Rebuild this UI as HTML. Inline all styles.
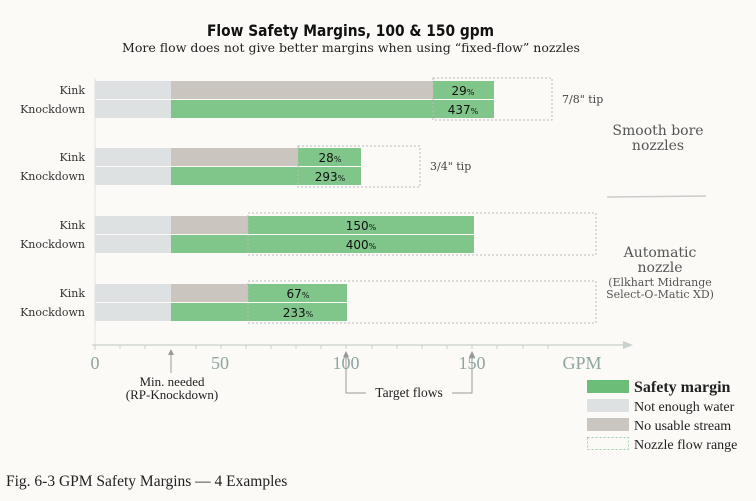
<!DOCTYPE html>
<html><head><meta charset="utf-8"><style>
body{margin:0;background:#fbfaf6;}
</style></head><body>
<svg width="756" height="496" viewBox="0 0 756 496" xmlns="http://www.w3.org/2000/svg" font-family="'DejaVu Serif','Liberation Serif',serif">
<rect width="756" height="496" fill="#fbfaf6"/>
<text x="207" y="36" font-size="16" font-weight="bold" textLength="287" lengthAdjust="spacingAndGlyphs" font-family="'DejaVu Sans','Liberation Sans',sans-serif" fill="#111">Flow Safety Margins, 100 &amp; 150 gpm</text>
<text x="122" y="52" font-size="12" textLength="458" lengthAdjust="spacingAndGlyphs" font-family="'DejaVu Serif',serif" fill="#222">More flow does not give better margins when using “fixed-flow” nozzles</text>
<line x1="95" y1="78" x2="95" y2="345" stroke="#e2e4e2" stroke-width="1"/>
<g font-size="11" fill="#333" text-anchor="end">
<text x="85" y="94">Kink</text><text x="85" y="113">Knockdown</text>
<text x="85" y="161">Kink</text><text x="85" y="180">Knockdown</text>
<text x="85" y="229">Kink</text><text x="85" y="248">Knockdown</text>
<text x="85" y="297">Kink</text><text x="85" y="316">Knockdown</text>
</g>
<rect x="95" y="81" width="76" height="18" fill="#dde1e2"/><rect x="171" y="81" width="262" height="18" fill="#cbc5c0"/><rect x="433" y="81" width="61" height="18" fill="#80c58a"/>
<rect x="95" y="100" width="76" height="18" fill="#dde1e2"/><rect x="171" y="100" width="323" height="18" fill="#80c58a"/>
<rect x="433" y="78" width="119" height="42" fill="none" stroke="#bbb" stroke-dasharray="2,2"/>
<rect x="95" y="148" width="76" height="18" fill="#dde1e2"/><rect x="171" y="148" width="127" height="18" fill="#cbc5c0"/><rect x="298" y="148" width="63" height="18" fill="#80c58a"/>
<rect x="95" y="167" width="76" height="18" fill="#dde1e2"/><rect x="171" y="167" width="190" height="18" fill="#80c58a"/>
<rect x="298" y="146" width="122" height="41" fill="none" stroke="#bbb" stroke-dasharray="2,2"/>
<rect x="95" y="216" width="76" height="18" fill="#dde1e2"/><rect x="171" y="216" width="77" height="18" fill="#cbc5c0"/><rect x="248" y="216" width="226" height="18" fill="#80c58a"/>
<rect x="95" y="235" width="76" height="18" fill="#dde1e2"/><rect x="171" y="235" width="303" height="18" fill="#80c58a"/>
<rect x="248" y="213" width="348" height="42" fill="none" stroke="#bbb" stroke-dasharray="2,2"/>
<rect x="95" y="284" width="76" height="18" fill="#dde1e2"/><rect x="171" y="284" width="77" height="18" fill="#cbc5c0"/><rect x="248" y="284" width="99" height="18" fill="#80c58a"/>
<rect x="95" y="303" width="76" height="18" fill="#dde1e2"/><rect x="171" y="303" width="176" height="18" fill="#80c58a"/>
<rect x="248" y="281" width="348" height="42" fill="none" stroke="#bbb" stroke-dasharray="2,2"/>
<g font-size="12" fill="#111" text-anchor="middle" font-family="'DejaVu Sans','Liberation Sans',sans-serif">
<text x="463" y="95">29<tspan font-size="8">%</tspan></text><text x="463" y="114">437<tspan font-size="8">%</tspan></text>
<text x="330" y="162">28<tspan font-size="8">%</tspan></text><text x="330" y="181">293<tspan font-size="8">%</tspan></text>
<text x="361" y="230">150<tspan font-size="8">%</tspan></text><text x="361" y="249">400<tspan font-size="8">%</tspan></text>
<text x="298" y="298">67<tspan font-size="8">%</tspan></text><text x="298" y="317">233<tspan font-size="8">%</tspan></text>
</g>
<g font-size="11" fill="#444"><text x="562" y="103">7/8" tip</text><text x="430" y="170">3/4" tip</text></g>
<g font-size="14" fill="#555" text-anchor="middle">
<text x="658" y="135">Smooth bore</text><text x="658" y="150">nozzles</text>
<text x="660" y="257">Automatic</text><text x="660" y="272">nozzle</text>
</g>
<g font-size="11" fill="#555" text-anchor="middle"><text x="660" y="286">(Elkhart Midrange</text><text x="660" y="298">Select-O-Matic XD)</text></g>
<line x1="607" y1="197" x2="706" y2="196" stroke="#ccc" stroke-width="1.5"/>
<line x1="92" y1="345" x2="630" y2="345" stroke="#c9d0ce" stroke-width="1.2"/>
<path d="M623 341 L633 345 L623 349 Z" fill="#c9d0ce"/>
<g stroke="#c9d0ce">
<line x1="95" y1="345" x2="95" y2="350"/><line x1="120" y1="345" x2="120" y2="349"/><line x1="145" y1="345" x2="145" y2="349"/><line x1="196" y1="345" x2="196" y2="349"/><line x1="221" y1="345" x2="221" y2="349"/><line x1="246" y1="345" x2="246" y2="349"/><line x1="271" y1="345" x2="271" y2="349"/><line x1="296" y1="345" x2="296" y2="349"/><line x1="321" y1="345" x2="321" y2="349"/><line x1="346" y1="345" x2="346" y2="349"/><line x1="372" y1="345" x2="372" y2="349"/><line x1="397" y1="345" x2="397" y2="349"/><line x1="422" y1="345" x2="422" y2="349"/><line x1="447" y1="345" x2="447" y2="349"/><line x1="472" y1="345" x2="472" y2="349"/><line x1="497" y1="345" x2="497" y2="349"/><line x1="523" y1="345" x2="523" y2="349"/><line x1="548" y1="345" x2="548" y2="349"/>
</g>
<g font-size="18" fill="#8fa5a0" text-anchor="middle" font-family="'Liberation Serif',serif">
<text x="95" y="369">0</text><text x="220" y="369">50</text><text x="346" y="369">100</text><text x="472" y="369">150</text><text x="582" y="369">GPM</text>
</g>
<line x1="171" y1="350" x2="171" y2="373" stroke="#999"/><path d="M168 355 L171 349 L174 355Z" fill="#999"/>
<g font-size="13" fill="#222" text-anchor="middle" font-family="'Liberation Serif',serif"><text x="172" y="386">Min. needed</text><text x="172" y="399">(RP-Knockdown)</text></g>
<path d="M346 352 V393 H366 M452 393 H472 V352" fill="none" stroke="#999"/>
<path d="M343 357 L346 351 L349 357Z M469 357 L472 351 L475 357Z" fill="#999"/>
<text x="409" y="397" font-size="13.5" text-anchor="middle" fill="#222" font-family="'Liberation Serif',serif">Target flows</text>
<rect x="587" y="380" width="42" height="13" fill="#6bbd78"/>
<rect x="587" y="399" width="42" height="13" fill="#dde1e2"/>
<rect x="587" y="418" width="42" height="13" fill="#cbc5c0"/>
<rect x="587.5" y="437.5" width="41" height="12" fill="none" stroke="#9ccfa5" stroke-dasharray="2,2"/>
<g fill="#222" font-family="'Liberation Serif',serif">
<text x="634" y="392" font-size="16" font-weight="bold">Safety margin</text>
<text x="634" y="411" font-size="14">Not enough water</text>
<text x="634" y="430" font-size="14">No usable stream</text>
<text x="634" y="449" font-size="14">Nozzle flow range</text>
</g>
<text x="6" y="486" font-size="15.5" fill="#222" font-family="'Liberation Serif',serif">Fig. 6-3  GPM Safety Margins — 4 Examples</text>
</svg>
</body></html>
